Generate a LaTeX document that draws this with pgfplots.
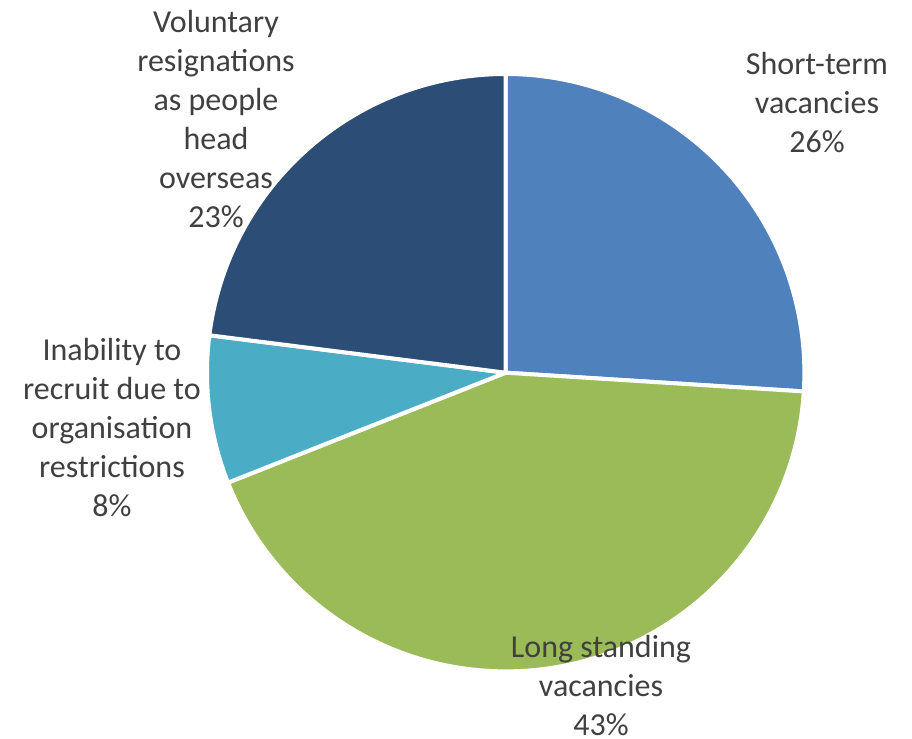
\documentclass[border=0pt]{standalone}
\usepackage{pgfplots}
\usepackage{pgfplotstable}
\pgfplotsset{compat=1.18}
\usepackage{fontspec}
\setmainfont{Carlito}
\definecolor{cShort}{HTML}{4F81BD}
\definecolor{cLong}{HTML}{9BBB59}
\definecolor{cInab}{HTML}{4BACC6}
\definecolor{cVol}{HTML}{2C4D75}
\definecolor{txt}{HTML}{404040}
\pgfplotstableread[col sep=comma]{
idx,value
0,26
1,43
2,8
3,23
}\piedata
\pgfplotstablegetelem{0}{value}\of\piedata \let\vA\pgfplotsretval
\pgfplotstablegetelem{1}{value}\of\piedata \let\vB\pgfplotsretval
\pgfplotstablegetelem{2}{value}\of\piedata \let\vC\pgfplotsretval
\pgfplotstablegetelem{3}{value}\of\piedata \let\vD\pgfplotsretval
\pgfmathsetmacro\aZ{90}
\pgfmathsetmacro\aA{\aZ-3.6*\vA}
\pgfmathsetmacro\aB{\aA-3.6*\vB}
\pgfmathsetmacro\aC{\aB-3.6*\vC}
\pgfmathsetmacro\aD{\aC-3.6*\vD}
\def\R{149.35pt}
\begin{document}
\begin{tikzpicture}
\begin{axis}[
  width=456pt, height=369.5pt, scale only axis,
  xmin=0, xmax=912, ymin=0, ymax=739,
  hide axis, clip=false,
]
\path (axis cs:0,0) rectangle (axis cs:912,739);
\fill[cShort, draw=white, line width=2pt, line join=round] (axis cs:505.7,366.3) -- ++(\aZ:\R) arc[start angle=\aZ, end angle=\aA, radius=\R] -- cycle;
\fill[cLong, draw=white, line width=2pt, line join=round] (axis cs:505.7,366.3) -- ++(\aA:\R) arc[start angle=\aA, end angle=\aB, radius=\R] -- cycle;
\fill[cInab, draw=white, line width=2pt, line join=round] (axis cs:505.7,366.3) -- ++(\aB:\R) arc[start angle=\aB, end angle=\aC, radius=\R] -- cycle;
\fill[cVol, draw=white, line width=2pt, line join=round] (axis cs:505.7,366.3) -- ++(\aC:\R) arc[start angle=\aC, end angle=\aD, radius=\R] -- cycle;
\tikzset{lbl/.style={align=center, text=txt, font=\fontsize{16}{19.5}\selectfont, inner sep=0pt}}
\node[lbl] at (axis cs:817,636) {Short-term\\vacancies\\26\%};
\node[lbl] at (axis cs:601,53) {Long standing\\vacancies\\43\%};
\node[lbl] at (axis cs:112,311.5) {Inability to\\recruit due to\\organisation\\restrictions\\8\%};
\node[lbl] at (axis cs:216,619.5) {Voluntary\\resignations\\as people\\head\\overseas\\23\%};
\end{axis}
\end{tikzpicture}
\end{document}
